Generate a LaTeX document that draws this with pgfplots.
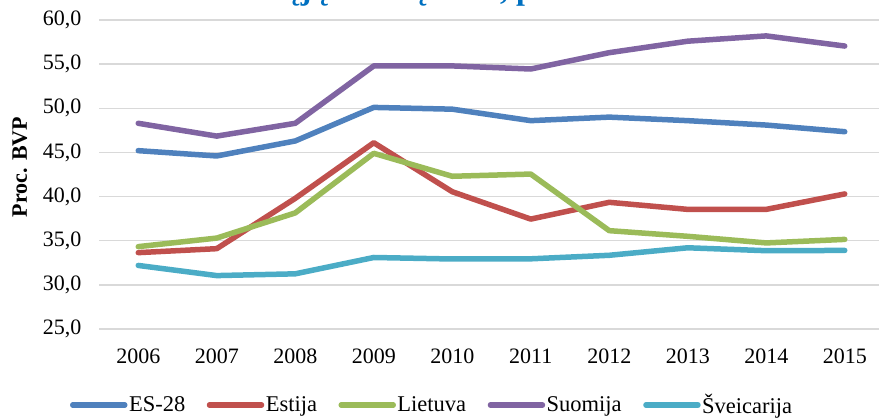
\documentclass[border=0pt]{standalone}
\usepackage{fontspec}
\setmainfont{Liberation Serif}
\usepackage{pgfplots}
\pgfplotsset{compat=1.18}
\definecolor{cES}{HTML}{4F81BD}
\definecolor{cEE}{HTML}{C0504D}
\definecolor{cLT}{HTML}{9BBB59}
\definecolor{cFI}{HTML}{8064A2}
\definecolor{cCH}{HTML}{4BACC6}
\definecolor{gridc}{HTML}{D9D9D9}
\definecolor{titc}{HTML}{0070C0}
\begin{document}
\begin{tikzpicture}
\begin{axis}[
  at={(99bp,-329bp)}, anchor=south west,
  scale only axis, width=785bp, height=309bp,
  xmin=-0.5, xmax=9.5, ymin=25, ymax=60,
  xtick={0,...,9},
  xticklabels={2006,2007,2008,2009,2010,2011,2012,2013,2014,2015},
  ytick={25,30,...,60},
  ymajorgrids, grid style={gridc, line width=1.3bp},
  axis line style={draw=none}, tick style={draw=none},
  major tick length=0pt,
  /pgf/number format/.cd, fixed, fixed zerofill, precision=1, use comma, assume math mode=true,
  /pgfplots/.cd,
  ticklabel style={font=\fontsize{22bp}{24bp}\selectfont},
  yticklabel style={xshift=-14bp},
  xticklabel style={yshift=-16bp},
  ylabel={\textbf{Proc. BVP}},
  ylabel style={at={(axis description cs:-0.101,0.524)}, anchor=center, font=\fontsize{22bp}{24bp}\selectfont},
  clip=false,
  legend columns=5,
  legend style={draw=none, fill=none, at={(axis description cs:0.424,-0.246)}, anchor=center,
    font=\fontsize{22.5bp}{24bp}\selectfont, inner sep=0pt,
    /tikz/every even column/.append style={column sep=20bp},
    nodes={inner sep=1.5bp}},
  legend image code/.code={\draw[#1, line width=5.5bp, line cap=round] (0bp,0bp) -- (52bp,0bp);},
  every axis plot/.append style={line width=5.5bp, line cap=round, line join=round},
]
\addplot[cES] coordinates {(0,45.2)(1,44.6)(2,46.3)(3,50.1)(4,49.9)(5,48.6)(6,49.0)(7,48.6)(8,48.1)(9,47.35)};
\addlegendentry{ES-28}
\addplot[cEE] coordinates {(0,33.65)(1,34.1)(2,39.8)(3,46.1)(4,40.55)(5,37.45)(6,39.35)(7,38.55)(8,38.55)(9,40.3)};
\addlegendentry{Estija}
\addplot[cLT] coordinates {(0,34.33)(1,35.3)(2,38.15)(3,44.9)(4,42.3)(5,42.55)(6,36.14)(7,35.5)(8,34.75)(9,35.15)};
\addlegendentry{Lietuva}
\addplot[cFI] coordinates {(0,48.3)(1,46.85)(2,48.3)(3,54.8)(4,54.8)(5,54.45)(6,56.3)(7,57.6)(8,58.2)(9,57.05)};
\addlegendentry{Suomija}
\addplot[cCH] coordinates {(0,32.2)(1,31.05)(2,31.25)(3,33.1)(4,32.93)(5,32.95)(6,33.35)(7,34.2)(8,33.87)(9,33.9)};
\addlegendentry{Šveicarija}
\end{axis}
\node[anchor=base, text=titc, font=\bfseries\fontsize{32bp}{34bp}\selectfont] at (443bp,1bp) {Viešųjų išlaidų dalis, proc. BVP};
\pgfresetboundingbox
\useasboundingbox (0bp,0bp) rectangle (879bp,-419bp);
\end{tikzpicture}
\end{document}
